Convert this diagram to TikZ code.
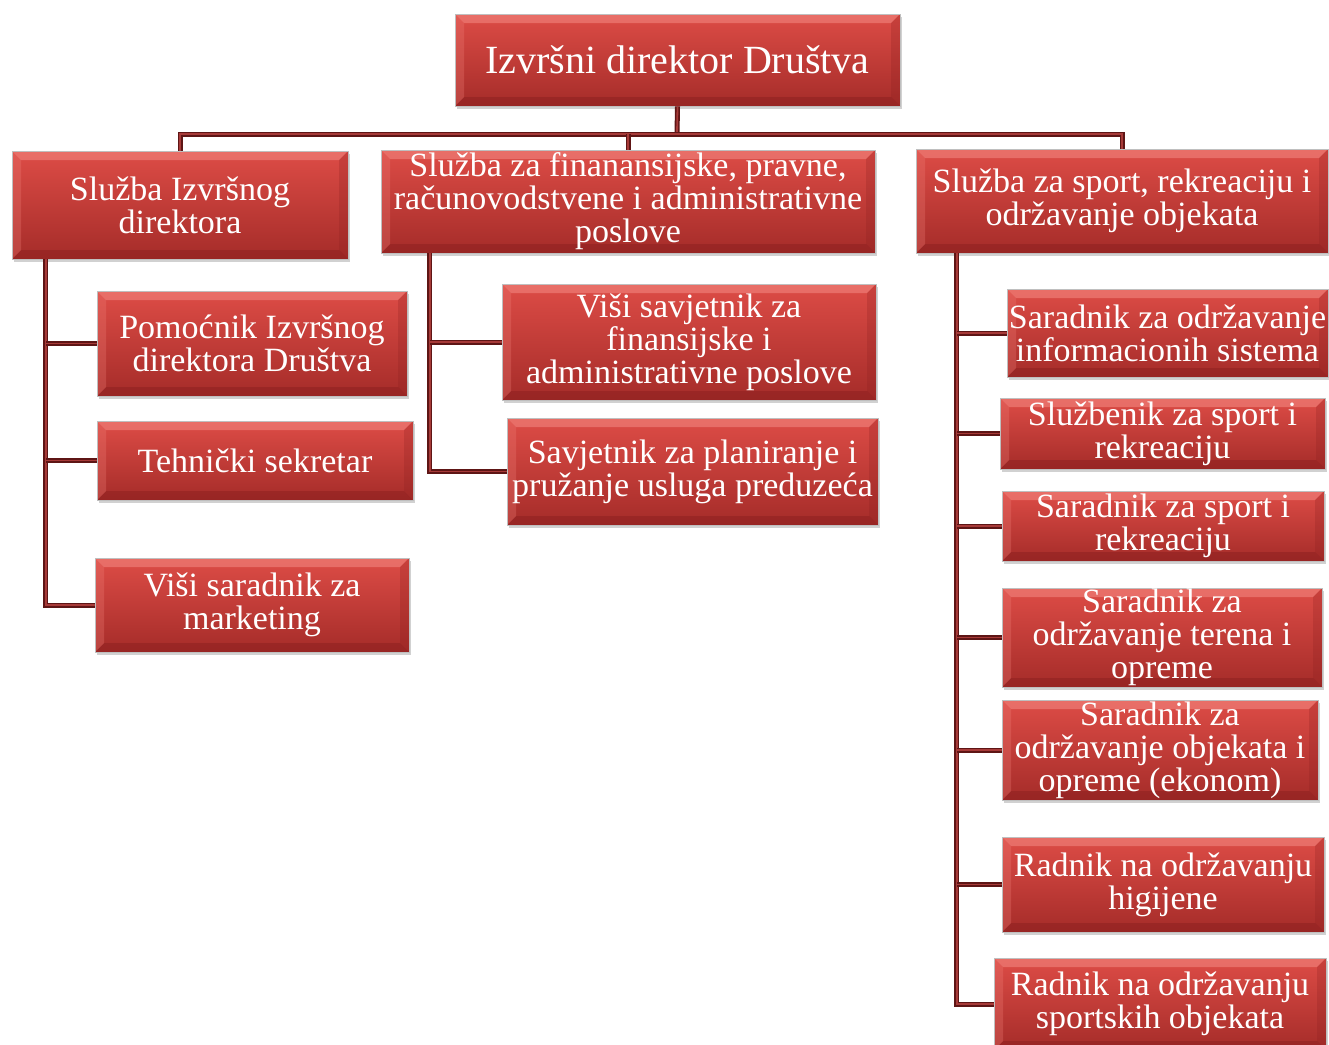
\documentclass[tikz,border=0pt]{standalone}
\usepackage{fontspec}
\setmainfont{Liberation Serif}
\usepackage{tikz}
\usetikzlibrary{shadows}
\definecolor{boxtop}{HTML}{DD4C46}
\definecolor{boxbot}{HTML}{A52C29}
\definecolor{bevlight}{HTML}{EE7D76}
\definecolor{bevdark}{HTML}{8C2020}
\definecolor{linedark}{HTML}{5E1515}
\definecolor{linemid}{HTML}{A63A38}

\begin{document}
\begin{tikzpicture}[x=1pt,y=-1pt]
\tikzset{box/.style={rectangle,align=center,text=white,inner sep=0pt,
  top color=boxtop,bottom color=boxbot,draw=black!25,line width=0.6pt,
  font=\fontsize{34}{33}\selectfont,
  drop shadow={shadow xshift=2pt,shadow yshift=-3pt,fill=black!40,opacity=.45},
  path picture={
   \fill[bevlight,opacity=.7] (path picture bounding box.north west) -- (path picture bounding box.north east)
     -- ([shift={(-9pt,-9pt)}]path picture bounding box.north east) -- ([shift={(9pt,-9pt)}]path picture bounding box.north west) -- cycle;
   \fill[bevdark,opacity=.5] (path picture bounding box.south west) -- (path picture bounding box.south east)
     -- ([shift={(-9pt,9pt)}]path picture bounding box.south east) -- ([shift={(9pt,9pt)}]path picture bounding box.south west) -- cycle;
   \fill[bevdark,opacity=.25] (path picture bounding box.north east) -- (path picture bounding box.south east)
     -- ([shift={(-9pt,9pt)}]path picture bounding box.south east) -- ([shift={(-9pt,-9pt)}]path picture bounding box.north east) -- cycle;
   \fill[bevlight,opacity=.3] (path picture bounding box.north west) -- (path picture bounding box.south west)
     -- ([shift={(9pt,9pt)}]path picture bounding box.south west) -- ([shift={(9pt,-9pt)}]path picture bounding box.north west) -- cycle;
  }},
 conn/.style={draw=linedark,double=linemid,double distance=1.8pt,line width=1.6pt}}
\useasboundingbox (0,0) rectangle (1329,1044);

\node[box,minimum width=445,minimum height=92,font=\fontsize{40}{44}\selectfont] (direktor) at (677.5,60) {Izvršni direktor Društva};

\node[box,minimum width=336,minimum height=108] (izvrsni) at (180,205) {Služba Izvršnog\\direktora};
\node[box,minimum width=494,minimum height=103] (finansije) at (628,201.5) {Služba za finanansijske, pravne,\\računovodstvene i administrativne\\poslove};
\node[box,minimum width=412,minimum height=104] (sport) at (1122,201) {Služba za sport, rekreaciju i\\održavanje objekata};

\node[box,minimum width=310,minimum height=105] (pomocnik) at (252,343.5) {Pomoćnik Izvršnog\\direktora Društva};
\node[box,minimum width=316,minimum height=79] (sekretar) at (255,460.5) {Tehnički sekretar};
\node[box,minimum width=314,minimum height=94] (marketing) at (252,605) {Viši saradnik za\\marketing};

\node[box,minimum width=374,minimum height=116] (visisavjetnik) at (689,342) {Viši savjetnik za\\finansijske i\\administrativne poslove};
\node[box,minimum width=371,minimum height=107] (planiranje) at (692.5,471.5) {Savjetnik za planiranje i\\pružanje usluga preduzeća};

\node[box,minimum width=321,minimum height=88] (informacioni) at (1167.5,333) {Saradnik za održavanje\\informacionih sistema};
\node[box,minimum width=325,minimum height=71] (sluzbenik) at (1162.5,433.5) {Službenik za sport i\\rekreaciju};
\node[box,minimum width=322,minimum height=70] (saradniksport) at (1163,526) {Saradnik za sport i\\rekreaciju};
\node[box,minimum width=320,minimum height=99] (tereni) at (1162,637.5) {Saradnik za\\održavanje terena i\\opreme};
\node[box,minimum width=316,minimum height=100] (ekonom) at (1160,750) {Saradnik za\\održavanje objekata i\\opreme (ekonom)};
\node[box,minimum width=322,minimum height=95] (higijena) at (1163,884.5) {Radnik na održavanju\\higijene};
\node[box,minimum width=332,minimum height=92] (objekti) at (1160,1004) {Radnik na održavanju\\sportskih objekata};

\begin{scope}[on background layer/.try]
\coordinate (bus) at (677,134);
\draw[conn] (direktor.south) -- (bus);
\draw[conn] (izvrsni.north) |- (bus) -| (sport.north);
\draw[conn] (finansije.north) -- (finansije.north |- bus);

\coordinate (lijevo) at ([xshift=34pt]izvrsni.south west);
\draw[conn] (lijevo) |- (marketing.west);
\foreach \n in {pomocnik,sekretar} \draw[conn] (\n.west) -- (\n.west -| lijevo);

\coordinate (sredina) at ([xshift=49pt]finansije.south west);
\draw[conn] (sredina) |- (planiranje.west);
\draw[conn] (visisavjetnik.west) -- (visisavjetnik.west -| sredina);

\coordinate (desno) at ([xshift=41pt]sport.south west);
\draw[conn] (desno) |- (objekti.west);
\foreach \n in {informacioni,sluzbenik,saradniksport,tereni,ekonom,higijena}
  \draw[conn] (\n.west) -- (\n.west -| desno);
\end{scope}
\end{tikzpicture}
\end{document}
